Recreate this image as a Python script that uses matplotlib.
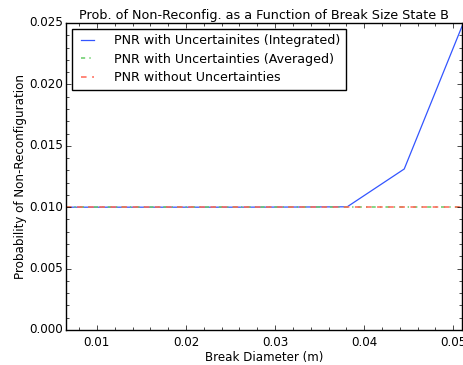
import matplotlib
matplotlib.use("Agg")
import numpy as np
from matplotlib import pyplot as plt
from matplotlib.ticker import AutoMinorLocator

# break diameters (m) and probabilities of non-reconfiguration
diam = [0.00652, 0.0127, 0.0190, 0.0254, 0.0318, 0.0381, 0.0445, 0.0510]
pnr_integrated = [0.01000, 0.01000, 0.01000, 0.01000, 0.01001, 0.01003, 0.01311, 0.02476]
pnr_averaged = [0.00998] * len(diam)
pnr_nominal = [0.00998] * len(diam)

plt.style.use("classic")
plt.rcParams["figure.facecolor"] = "white"
plt.rcParams["font.family"] = "DejaVu Sans"

fig, ax = plt.subplots(figsize=(4.64, 3.65), dpi=100)
ax.plot(diam, pnr_integrated, color="#3355ff", linewidth=0.9,
        label="PNR with Uncertainites (Integrated)")
ax.plot(diam, pnr_averaged, color="#66cc66", linewidth=1.1,
        dashes=(3, 3, 1, 3), label="PNR with Uncertainties (Averaged)")
ax.plot(diam, pnr_nominal, color="#ff6655", linewidth=1.1,
        dashes=(4, 4), label="PNR without Uncertainties")

ax.set_xlim(diam[0], diam[-1])
ax.set_ylim(0, 0.025)
ax.set_xticks([0.01, 0.02, 0.03, 0.04, 0.05])
ax.set_yticks(np.arange(0, 0.0251, 0.005))
ax.xaxis.set_minor_locator(AutoMinorLocator(5))
ax.yaxis.set_minor_locator(AutoMinorLocator(5))
ax.tick_params(labelsize=8.6, length=3.5)
ax.tick_params(axis="y", pad=2)
ax.tick_params(which="minor", length=2)

ax.set_xlabel("Break Diameter (m)", fontsize=8.6, labelpad=2)
ax.set_ylabel("Probability of Non-Reconfiguration", fontsize=8.6, labelpad=1.5)
ax.set_title("Prob. of Non-Reconfig. as a Function of Break Size State B",
             fontsize=9.2, pad=3)
ax.legend(loc="upper left", fontsize=9.1, handlelength=1.6, labelspacing=0.42,
          borderaxespad=0.45, handletextpad=1.3, borderpad=0.45)

fig.subplots_adjust(left=0.142, right=0.996, bottom=0.096, top=0.937)
fig.savefig("out.png", dpi=100)
